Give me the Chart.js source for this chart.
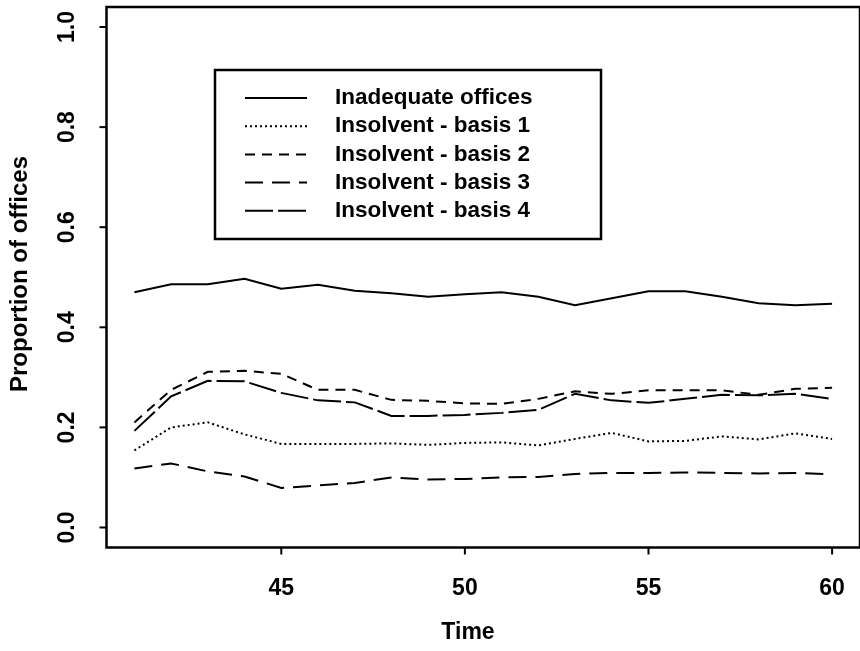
<!DOCTYPE html>
<html>
<head>
<meta charset="utf-8">
<script src="https://cdn.jsdelivr.net/npm/chart.js@4.4.0/dist/chart.umd.min.js"></script>
<style>
  html, body { margin: 0; padding: 0; background: #fff; }
  #chart { display: block; }
</style>
</head>
<body>
<canvas id="chart" width="860" height="651"></canvas>
<script>
// data
const years = [41, 42, 43, 44, 45, 46, 47, 48, 49, 50, 51, 52, 53, 54, 55, 56, 57, 58, 59, 60];
const inadequate = [0.470, 0.486, 0.486, 0.497, 0.477, 0.485, 0.473, 0.468, 0.461, 0.466, 0.470, 0.461, 0.444, 0.458, 0.472, 0.472, 0.461, 0.448, 0.444, 0.447];
const basis1 = [0.154, 0.200, 0.210, 0.186, 0.167, 0.167, 0.167, 0.168, 0.165, 0.169, 0.170, 0.164, 0.177, 0.189, 0.172, 0.173, 0.182, 0.176, 0.188, 0.177];
const basis2 = [0.210, 0.275, 0.311, 0.313, 0.307, 0.275, 0.275, 0.255, 0.253, 0.248, 0.247, 0.257, 0.272, 0.267, 0.274, 0.274, 0.274, 0.265, 0.277, 0.279];
const basis3 = [0.118, 0.128, 0.112, 0.102, 0.079, 0.084, 0.089, 0.100, 0.096, 0.097, 0.100, 0.101, 0.107, 0.109, 0.109, 0.110, 0.109, 0.108, 0.109, 0.106];
const basis4 = [0.193, 0.262, 0.293, 0.292, 0.269, 0.254, 0.250, 0.223, 0.223, 0.225, 0.229, 0.235, 0.267, 0.254, 0.249, 0.257, 0.265, 0.264, 0.267, 0.257];
const xTicks = [45, 50, 55, 60];
const yTicks = [0, 0.2, 0.4, 0.6, 0.8, 1.0];

const FONT = '"Liberation Sans", Arial, Helvetica, sans-serif';

function pts(ys) {
  return years.map((x, i) => ({ x: x, y: ys[i] }));
}

function line(label, ys, dash) {
  return {
    label: label,
    data: pts(ys),
    borderColor: "#000",
    borderWidth: 2,
    borderDash: dash,
    pointRadius: 0,
    tension: 0,
    fill: false,
  };
}

const frame = {
  id: "frame",
  afterDraw(chart) {
    const ctx = chart.ctx;
    const a = chart.chartArea;
    const xs = chart.scales.x;
    const ys = chart.scales.y;
    ctx.save();
    ctx.strokeStyle = "#000";
    ctx.fillStyle = "#000";
    ctx.lineWidth = 2.5;
    ctx.setLineDash([]);
    ctx.strokeRect(a.left, a.top, a.right - a.left, a.bottom - a.top);

    // x axis
    ctx.lineWidth = 2;
    ctx.font = "bold 23px " + FONT;
    ctx.textAlign = "center";
    ctx.textBaseline = "middle";
    xTicks.forEach((t) => {
      const px = xs.getPixelForValue(t);
      ctx.beginPath();
      ctx.moveTo(px, a.bottom);
      ctx.lineTo(px, a.bottom + 7);
      ctx.stroke();
      ctx.fillText(String(t), px, 589);
    });
    ctx.fillText("Time", 468, 633);

    // y axis
    yTicks.forEach((t) => {
      const py = ys.getPixelForValue(t);
      ctx.beginPath();
      ctx.moveTo(a.left, py);
      ctx.lineTo(a.left - 7, py);
      ctx.stroke();
      ctx.save();
      ctx.translate(68, py);
      ctx.rotate(-Math.PI / 2);
      ctx.fillText(t.toFixed(1), 0, 0);
      ctx.restore();
    });
    ctx.save();
    ctx.translate(20, 274);
    ctx.rotate(-Math.PI / 2);
    ctx.font = "bold 24px " + FONT;
    ctx.fillText("Proportion of offices", 0, 0);
    ctx.restore();

    // legend
    ctx.lineWidth = 2.5;
    ctx.strokeRect(215, 70, 386, 169);
    ctx.font = "bold 22.5px " + FONT;
    ctx.textAlign = "left";
    chart.data.datasets.forEach((ds, i) => {
      const yy = 98 + i * 28.2;
      ctx.lineWidth = 2;
      ctx.setLineDash(ds.borderDash || []);
      ctx.beginPath();
      ctx.moveTo(245, yy);
      ctx.lineTo(307, yy);
      ctx.stroke();
      ctx.setLineDash([]);
      ctx.fillText(ds.label, 335, yy);
    });
    ctx.restore();
  },
};

new Chart(document.getElementById("chart"), {
  type: "line",
  data: {
    datasets: [
      line("Inadequate offices", inadequate, []),
      line("Insolvent - basis 1", basis1, [2, 3]),
      line("Insolvent - basis 2", basis2, [10, 7]),
      line("Insolvent - basis 3", basis3, [18, 9]),
      line("Insolvent - basis 4", basis4, [28, 5]),
    ],
  },
  options: {
    responsive: false,
    animation: false,
    devicePixelRatio: 1,
    layout: { padding: { top: 7, right: 0, left: 0, bottom: 0 } },
    plugins: {
      legend: { display: false },
      tooltip: { enabled: false },
    },
    scales: {
      x: {
        type: "linear",
        min: 40.24,
        max: 60.76,
        grid: { display: false },
        border: { display: false },
        ticks: { display: false },
        afterFit: (s) => { s.height = 103.5; },
      },
      y: {
        min: -0.04,
        max: 1.04,
        grid: { display: false },
        border: { display: false },
        ticks: { display: false },
        afterFit: (s) => { s.width = 106.5; },
      },
    },
  },
  plugins: [frame],
});
</script>
</body>
</html>
